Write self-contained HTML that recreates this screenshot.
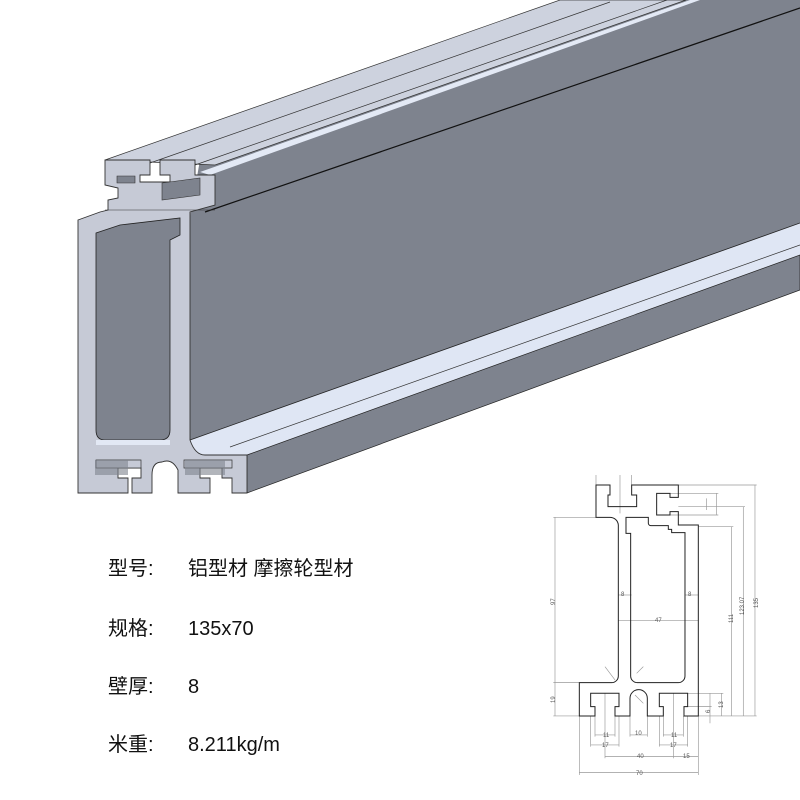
<!DOCTYPE html>
<html><head><meta charset="utf-8"><style>
body{margin:0;background:#fff;width:800px;height:800px;overflow:hidden}
svg{display:block}
.t{font-family:"Liberation Sans","Noto Sans CJK SC",sans-serif;font-size:20px;fill:#111}
.d{font-family:"Liberation Sans",sans-serif;font-size:6px;fill:#555}
</style></head><body>
<svg width="800" height="800" viewBox="0 0 800 800">
<!-- big dark face (background of upper region) -->
<polygon points="190,216 200,160 560,0 800,0 800,223 190,440" fill="#7e838e"/>
<!-- top light surfaces -->
<polygon points="105,160 560,0 686,0 215,165" fill="#cdd2de" stroke="#333" stroke-width="0.7"/>
<polygon points="200,172 690,0 700,0 210,175" fill="#e3e9f5"/>
<line x1="150" y1="163" x2="610" y2="2" stroke="#333" stroke-width="0.7"/>
<line x1="195" y1="165" x2="667" y2="0" stroke="#333" stroke-width="0.7"/>
<line x1="205" y1="212" x2="800" y2="8" stroke="#111" stroke-width="1.2"/>
<!-- bottom light strips -->
<polygon points="190,440 800,223 800,255 247,455 195,455" fill="#dfe6f4"/>
<line x1="190" y1="440" x2="800" y2="223" stroke="#222" stroke-width="0.8"/>
<line x1="230" y1="447" x2="800" y2="245" stroke="#333" stroke-width="0.7"/>
<polygon points="247,455 800,255 800,290 247,493" fill="#7e838e" stroke="#222" stroke-width="0.7"/>
<!-- end face -->
<path d="M78,220 L100,212 L108,210 L108,200 L118,198 L118,188 L105,185 L105,160 L150,160 L150,175 L140,175 L140,182 L170,182 L170,175 L160,175 L160,160 L195,160 L195,175 L215,175 L215,205 L190,212 L190,440 Q195,455 205,455 L247,455 L247,493 L232,493 L232,478 L222,478 L222,468 L200,468 L200,478 L210,478 L210,493 L178,493 L178,470 Q172,458 162,462 Q152,462 152,475 L152,493 L132,493 L132,478 L141,478 L141,468 L118,468 L118,478 L128,478 L128,493 L78,493 Z" fill="#c6cad6" stroke="#333" stroke-width="0.9"/>
<path d="M96,233 L120,225 L180,218 L180,235 L170,240 L170,430 Q170,440 160,440 L105,440 Q96,440 96,430 Z" fill="#7e838e" stroke="#222" stroke-width="0.8"/>
<path d="M96,440 L170,440 L170,445 L96,445 Z" fill="#e2e8f4"/>
<path d="M96,460 L141,460 L141,468 L96,468 Z M184,460 L232,460 L232,468 L184,468 Z" fill="#c6cad6" stroke="#333" stroke-width="0.7"/>
<path d="M95,460 L128,460 L128,475 L95,475Z" fill="#7e838e" opacity="0.6"/>
<path d="M185,460 L225,460 L225,475 L185,475Z" fill="#7e838e" opacity="0.6"/>
<path d="M117,176 L135,176 L135,183 L117,183Z M162,183 L200,178 L200,195 L162,200Z" fill="#7e838e" stroke="#333" stroke-width="0.6"/>
<path d="M105,210 L215,210" stroke="#333" stroke-width="0.6"/>

<!-- labels -->
<text class="t" x="108" y="575">型号:</text><text class="t" x="188" y="575">铝型材 摩擦轮型材</text>
<text class="t" x="108" y="635">规格:</text><text class="t" x="188" y="635">135x70</text>
<text class="t" x="108" y="693">壁厚:</text><text class="t" x="188" y="693">8</text>
<text class="t" x="108" y="751">米重:</text><text class="t" x="188" y="751">8.211kg/m</text>

<!-- technical drawing -->
<g transform="translate(540,460) scale(0.3333)" fill="none">
<g stroke="#999" stroke-width="2">
<line x1="168" y1="45" x2="168" y2="75"/><line x1="275" y1="45" x2="275" y2="75"/><line x1="240" y1="45" x2="240" y2="160"/>
<line x1="415" y1="75" x2="650" y2="75"/><line x1="645" y1="75" x2="645" y2="768"/>
<line x1="415" y1="140" x2="615" y2="140"/><line x1="610" y1="140" x2="610" y2="768"/>
<line x1="475" y1="200" x2="580" y2="200"/><line x1="575" y1="200" x2="575" y2="768"/>
<line x1="390" y1="100" x2="535" y2="100"/><line x1="530" y1="100" x2="530" y2="165"/><line x1="390" y1="165" x2="535" y2="165"/>
<line x1="500" y1="115" x2="500" y2="150"/>
<line x1="440" y1="700" x2="550" y2="700"/><line x1="545" y1="700" x2="545" y2="768"/>
<line x1="440" y1="740" x2="515" y2="740"/><line x1="510" y1="700" x2="510" y2="790"/>
<line x1="475" y1="768" x2="650" y2="768"/>
<line x1="40" y1="172" x2="168" y2="172"/><line x1="45" y1="172" x2="45" y2="768"/>
<line x1="40" y1="668" x2="118" y2="668"/><line x1="40" y1="768" x2="118" y2="768"/>
<line x1="235" y1="405" x2="275" y2="405"/><line x1="435" y1="405" x2="475" y2="405"/>
<line x1="235" y1="482" x2="475" y2="482"/>
<line x1="118" y1="768" x2="118" y2="945"/><line x1="475" y1="768" x2="475" y2="945"/><line x1="118" y1="938" x2="475" y2="938"/>
<line x1="195" y1="700" x2="195" y2="895"/><line x1="400" y1="700" x2="400" y2="895"/><line x1="195" y1="890" x2="475" y2="890"/>
<line x1="152" y1="768" x2="152" y2="860"/><line x1="237" y1="768" x2="237" y2="860"/><line x1="152" y1="855" x2="237" y2="855"/>
<line x1="165" y1="768" x2="165" y2="830"/><line x1="225" y1="768" x2="225" y2="830"/><line x1="165" y1="825" x2="225" y2="825"/>
<line x1="270" y1="768" x2="270" y2="830"/><line x1="322" y1="768" x2="322" y2="830"/><line x1="270" y1="825" x2="322" y2="825"/>
<line x1="358" y1="768" x2="358" y2="860"/><line x1="443" y1="768" x2="443" y2="860"/><line x1="358" y1="855" x2="443" y2="855"/>
<line x1="370" y1="768" x2="370" y2="830"/><line x1="430" y1="768" x2="430" y2="830"/><line x1="370" y1="825" x2="430" y2="825"/>
<line x1="195" y1="620" x2="225" y2="660"/><line x1="290" y1="640" x2="310" y2="620"/><line x1="285" y1="705" x2="310" y2="730"/>
</g>
<path d="M168,75 H210 V105 H204 V140 H290 V105 H275 V75 H415 V112 H390 V100 H350 V165 H390 V155 H415 V195 H475 V768 H432 V740 H443 V700 H358 V740 H370 V768 H322 V715 A26,26 0 0 0 270,715 V768 H225 V740 H237 V700 H152 V740 H165 V768 H118 V668 H215 A20,20 0 0 0 235,648 V195 A25,25 0 0 0 210,172 H168 Z" stroke="#222" stroke-width="3"/>
<path d="M258,172 H325 V190 A8,8 0 0 0 333,197 H385 V208 H395 V218 H435 V648 A20,20 0 0 1 415,668 H292 A20,20 0 0 1 272,648 V220 H258 Z" stroke="#222" stroke-width="3"/>
</g>
<g class="d">
<text x="548" y="602" transform="rotate(-90 553 600)">97</text>
<text x="548" y="700" transform="rotate(-90 553 698)">19</text>
<text x="726" y="620" transform="rotate(-90 731 618)">111</text>
<text x="737" y="612" transform="rotate(-90 742 610)">123.07</text>
<text x="751" y="605" transform="rotate(-90 756 603)">135</text>
<text x="621" y="596">8</text><text x="688" y="596">8</text><text x="655" y="622">47</text>
<text x="603" y="737">11</text><text x="602" y="747">17</text><text x="635" y="735">10</text>
<text x="671" y="737">11</text><text x="670" y="747">17</text>
<text x="637" y="758">40</text><text x="683" y="758">15</text><text x="636" y="775">70</text>
<text x="705" y="712" transform="rotate(-90 708 710)">6</text>
<text x="718" y="707" transform="rotate(-90 721 705)">13</text>
</g>
</svg>
</body></html>
